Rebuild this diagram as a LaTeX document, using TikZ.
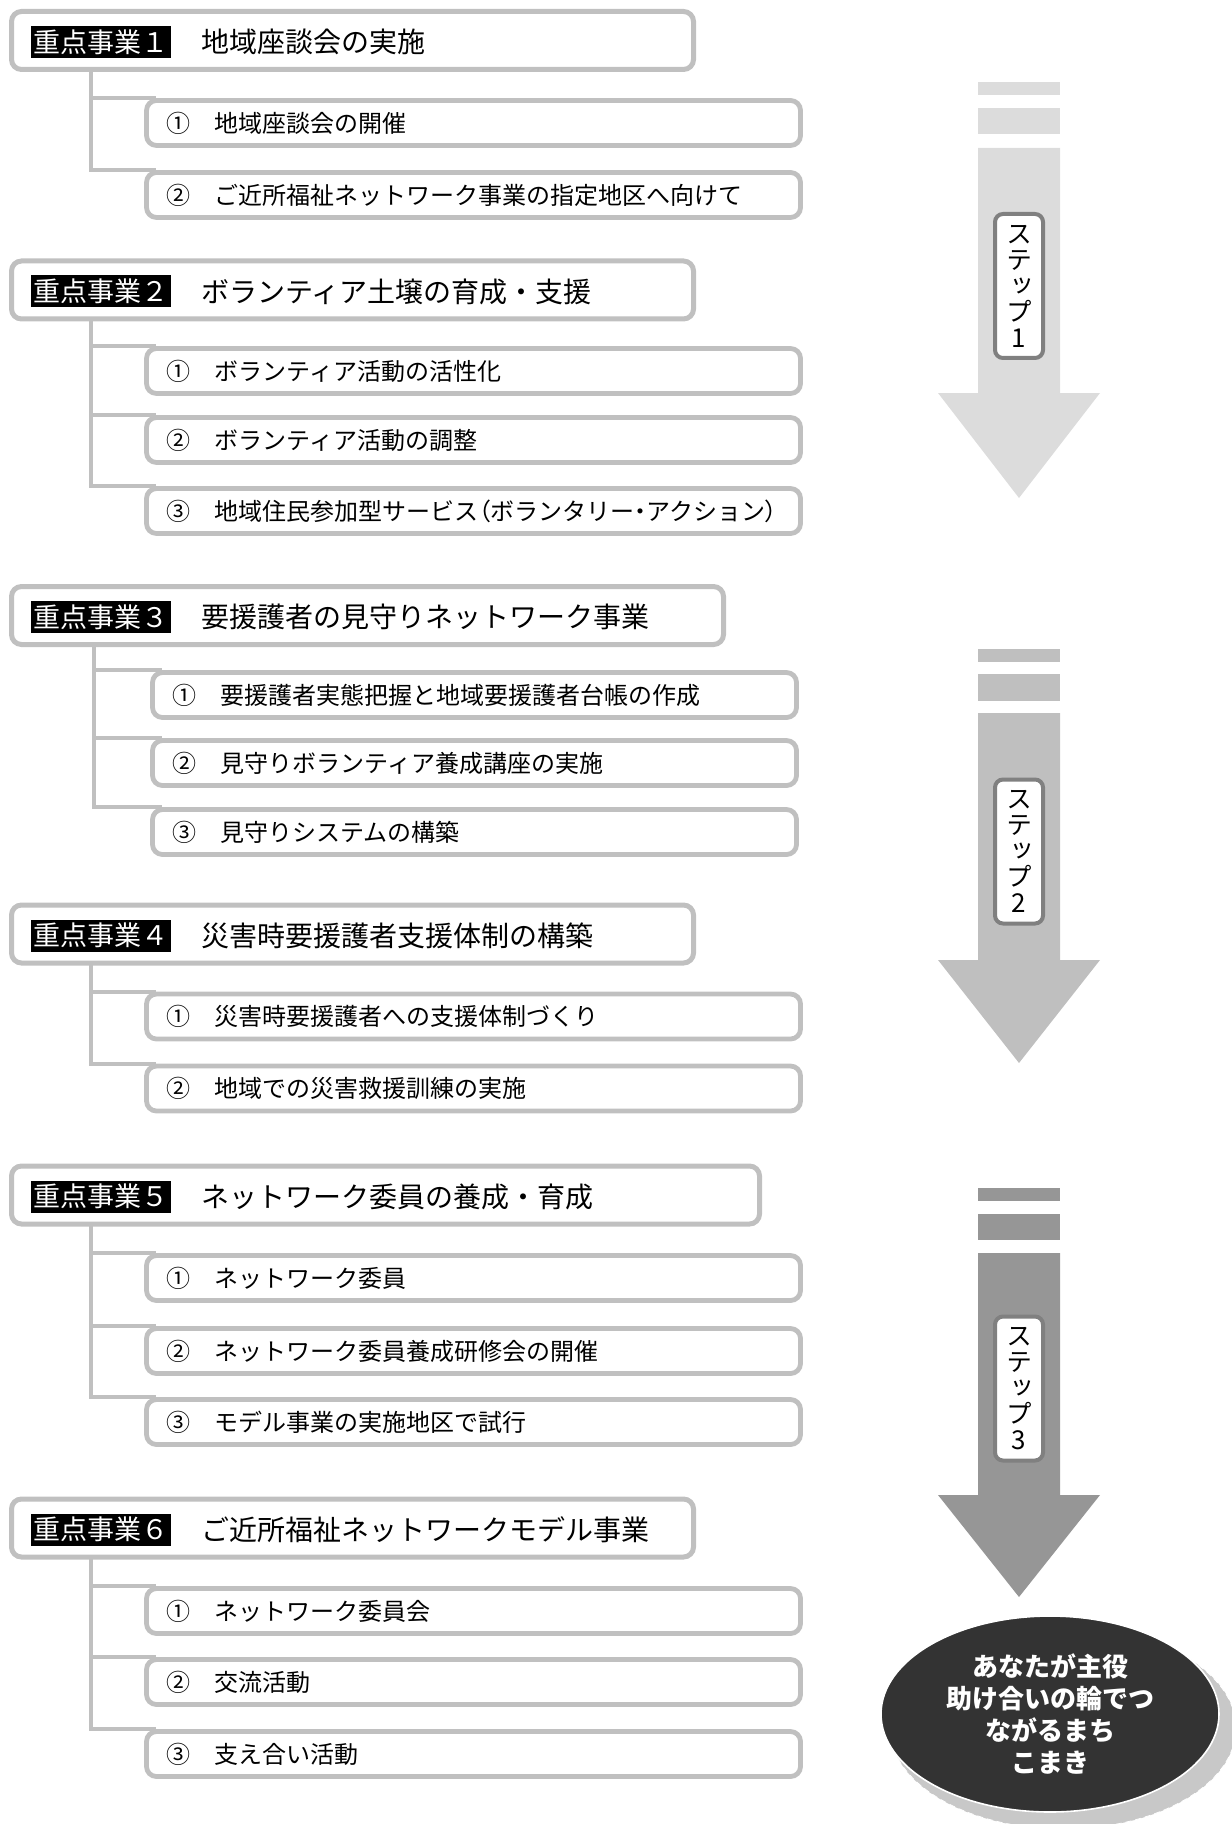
\documentclass[tikz,border=0pt]{standalone}
\usepackage{fontspec}
\setmainfont{Noto Sans CJK JP}
\newfontfamily\pf[RawFeature=+palt]{Noto Sans CJK JP}
\newfontfamily\vf[RawFeature=+vert]{Noto Sans CJK JP}
\usetikzlibrary{shapes.geometric,backgrounds,calc}
\definecolor{bgray}{HTML}{C0C0C0}
\definecolor{aone}{HTML}{DCDCDC}
\definecolor{atwo}{HTML}{BFBFBF}
\definecolor{athree}{HTML}{969696}
\definecolor{lbord}{HTML}{808080}
\definecolor{darkfill}{HTML}{333333}
\definecolor{shad}{HTML}{C8C8C8}
\begin{document}
\begin{tikzpicture}[x=0.5pt,y=-0.5pt,
 hdr/.style={draw=bgray,line width=2.5pt,rounded corners=5pt,fill=white,minimum height=29pt,inner sep=0pt},
 tag/.style={fill=black,text=white,font=\fontsize{13.5}{14}\selectfont,inner sep=0pt,minimum width=70pt,minimum height=16pt},
 ttl/.style={anchor=west,inner sep=0pt,font=\fontsize{14}{16}\selectfont},
 sub/.style={draw=bgray,line width=2.4pt,rounded corners=5pt,fill=white,minimum height=22.5pt,inner xsep=10pt,inner ysep=0pt,text width=307pt,align=left,font=\fontsize{12}{14}\selectfont},
 tree/.style={draw=bgray,line width=2pt},
 stp/.style={draw=lbord,line width=2pt,fill=white,rounded corners=4pt,minimum width=24pt,minimum height=72pt,inner sep=0pt,align=center,font=\vf\fontsize{13}{13}\selectfont},
 ell/.style={ellipse,fill=darkfill,draw=white,line width=0.8pt,minimum width=169pt,minimum height=98pt,inner sep=0pt,text=white,align=center,font=\bfseries\fontsize{13}{16}\selectfont}]
\useasboundingbox (0,0) rectangle (1231,1824);

% ---------- Group 1
\node[hdr,minimum width=341pt] (h1) at (352.5,40.5) {};
\node[tag] (l1) at (101,42) {重点事業１};
\node[ttl] (t1x) at (201,42) {地域座談会の実施};
\node[sub] (s11) at (473.5,123) {①　地域座談会の開催};
\node[sub] (s12) at (473.5,195) {②　ご近所福祉ネットワーク事業の指定地区へ向けて};
\coordinate (t1) at (91,70);

% ---------- Group 2
\node[hdr,minimum width=341pt] (h2) at (352.5,290) {};
\node[tag] (l2) at (101,291.5) {重点事業２};
\node[ttl] (t2x) at (201,291.5) {ボランティア土壌の育成・支援};
\node[sub] (s21) at (473.5,371) {①　ボランティア活動の活性化};
\node[sub] (s22) at (473.5,440) {②　ボランティア活動の調整};
\node[sub] (s23) at (473.5,511) {③　地域住民参加型サービス{\pf （}ボランタリー{\pf ・}アクション{\pf ）}};
\coordinate (t2) at (91,320);

% ---------- Group 3
\node[hdr,minimum width=356pt] (h3) at (367.5,615.5) {};
\node[tag] (l3) at (101,617) {重点事業３};
\node[ttl] (t3x) at (201,617) {要援護者の見守りネットワーク事業};
\node[sub,text width=302pt] (s31) at (474.5,695) {①　要援護者実態把握と地域要援護者台帳の作成};
\node[sub,text width=302pt] (s32) at (474.5,763) {②　見守りボランティア養成講座の実施};
\node[sub,text width=302pt] (s33) at (474.5,832) {③　見守りシステムの構築};
\coordinate (t3) at (94,645);

% ---------- Group 4
\node[hdr,minimum width=341pt] (h4) at (352.5,934) {};
\node[tag] (l4) at (101,935.5) {重点事業４};
\node[ttl] (t4x) at (201,935.5) {災害時要援護者支援体制の構築};
\node[sub] (s41) at (473.5,1016.5) {①　災害時要援護者への支援体制づくり};
\node[sub] (s42) at (473.5,1088.5) {②　地域での災害救援訓練の実施};
\coordinate (t4) at (91,964);

% ---------- Group 5
\node[hdr,minimum width=374pt] (h5) at (385.5,1195) {};
\node[tag] (l5) at (101,1196.5) {重点事業５};
\node[ttl] (t5x) at (201,1196.5) {ネットワーク委員の養成・育成};
\node[sub] (s51) at (473.5,1278) {①　ネットワーク委員};
\node[sub] (s52) at (473.5,1351) {②　ネットワーク委員養成研修会の開催};
\node[sub] (s53) at (473.5,1422) {③　モデル事業の実施地区で試行};
\coordinate (t5) at (91,1225);

% ---------- Group 6
\node[hdr,minimum width=341pt] (h6) at (352.5,1528) {};
\node[tag] (l6) at (101,1529.5) {重点事業６};
\node[ttl] (t6x) at (201,1529.5) {ご近所福祉ネットワークモデル事業};
\node[sub] (s61) at (473.5,1611) {①　ネットワーク委員会};
\node[sub] (s62) at (473.5,1682) {②　交流活動};
\node[sub] (s63) at (473.5,1754) {③　支え合い活動};
\coordinate (t6) at (91,1558);

\begin{pgfonlayer}{background}
\draw[tree] (t1) |- ([xshift=6pt]s11.north west);
\draw[tree] (t1) |- ([xshift=6pt]s12.north west);
\draw[tree] (t2) |- ([xshift=6pt]s21.north west);
\draw[tree] (t2) |- ([xshift=6pt]s22.north west);
\draw[tree] (t2) |- ([xshift=6pt]s23.north west);
\draw[tree] (t3) |- ([xshift=6pt]s31.north west);
\draw[tree] (t3) |- ([xshift=6pt]s32.north west);
\draw[tree] (t3) |- ([xshift=6pt]s33.north west);
\draw[tree] (t4) |- ([xshift=6pt]s41.north west);
\draw[tree] (t4) |- ([xshift=6pt]s42.north west);
\draw[tree] (t5) |- ([xshift=6pt]s51.north west);
\draw[tree] (t5) |- ([xshift=6pt]s52.north west);
\draw[tree] (t5) |- ([xshift=6pt]s53.north west);
\draw[tree] (t6) |- ([xshift=6pt]s61.north west);
\draw[tree] (t6) |- ([xshift=6pt]s62.north west);
\draw[tree] (t6) |- ([xshift=6pt]s63.north west);
\end{pgfonlayer}

% ---------- Step arrows
\fill[aone] (978,82) rectangle (1060,95);
\fill[aone] (978,108) rectangle (1060,134);
\fill[aone] (978,148) -- (1060,148) -- (1060,393) -- (1100,393) -- (1019,498) -- (938,393) -- (978,393) -- cycle;
\node[stp] (st1) at (1019,286) {ス\\テ\\ッ\\プ\\1};

\fill[atwo] (978,649) rectangle (1060,662);
\fill[atwo] (978,674) rectangle (1060,701);
\fill[atwo] (978,713) -- (1060,713) -- (1060,960) -- (1100,960) -- (1019,1063) -- (938,960) -- (978,960) -- cycle;
\node[stp] (st2) at (1019,851.5) {ス\\テ\\ッ\\プ\\2};

\fill[athree] (978,1188) rectangle (1060,1201);
\fill[athree] (978,1214) rectangle (1060,1240);
\fill[athree] (978,1253) -- (1060,1253) -- (1060,1495) -- (1100,1495) -- (1019,1597) -- (938,1495) -- (978,1495) -- cycle;
\node[stp] (st3) at (1019,1388.5) {ス\\テ\\ッ\\プ\\3};

% ---------- Goal ellipse
\fill[shad] (1063,1728) ellipse [x radius=173, y radius=101];
\draw[white,line width=0.4pt,densely dashed] (1063,1728) ellipse [x radius=173, y radius=101];
\node[ell] (goal) at (1050,1714) {あなたが主役\\助け合いの輪でつ\\ながるまち\\こまき};
\end{tikzpicture}
\end{document}
